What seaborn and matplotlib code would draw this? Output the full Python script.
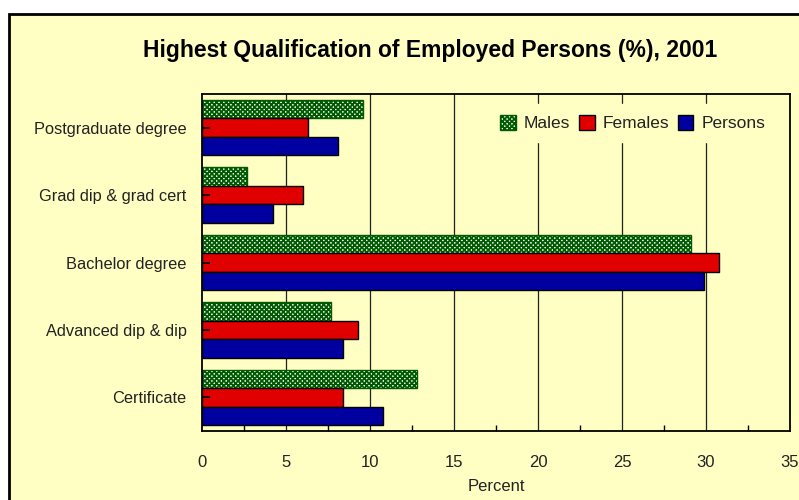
import pandas as pd
import matplotlib
matplotlib.use("Agg")
import matplotlib.pyplot as plt
import seaborn as sns
from matplotlib.patches import Rectangle, Patch
from matplotlib.ticker import MultipleLocator

# Donnees
qualifications = ["Postgraduate degree", "Grad dip & grad cert", "Bachelor degree",
                  "Advanced dip & dip", "Certificate"]
series = ["Males", "Females", "Persons"]
males = [9.6, 2.7, 29.1, 7.7, 12.8]
females = [6.3, 6.0, 30.8, 9.3, 8.4]
persons = [8.1, 4.2, 29.9, 8.4, 10.8]

df = pd.DataFrame({
    "qualification": qualifications * 3,
    "serie": [s for s in series for _ in qualifications],
    "pourcentage": males + females + persons,
})

jaune = "#FFFFC4"
vert = "#005A00"
couleurs = {"Males": "#FFFFFF", "Females": "#E00000", "Persons": "#0000A0"}

sns.set_theme(style="white")
plt.rcParams["font.family"] = ["Liberation Sans", "DejaVu Sans"]
plt.rcParams["hatch.linewidth"] = 1.3

fig = plt.figure(figsize=(7.99, 5.0), dpi=100, facecolor="white")
# panneau jaune avec bordure noire
fig.patches.append(Rectangle((9 / 799, -0.1), 1.2, 1.1 - 14 / 500, transform=fig.transFigure,
                             facecolor=jaune, edgecolor="black", linewidth=2, zorder=-10))
ax = fig.add_axes([202 / 799, 1 - 431 / 500, 588 / 799, 337 / 500])
ax.set_facecolor(jaune)

sns.barplot(data=df, y="qualification", x="pourcentage", hue="serie", hue_order=series,
            palette=couleurs, width=0.82, orient="h", edgecolor="black", linewidth=1,
            saturation=1, legend=False, ax=ax)

# motif en damier pour les hommes
for p in ax.containers[0]:
    p.set_hatch("xxxxxxx")
    p.set_edgecolor(vert)
    p.set_facecolor("white")

ax.set_xlim(0, 35)
ax.xaxis.set_major_locator(MultipleLocator(5))
ax.xaxis.set_minor_locator(MultipleLocator(2.5))
for x in ax.get_xticks():
    if 0 < x < 35:
        ax.axvline(x, color="#222222", linewidth=0.9, zorder=0)

ax.set_axisbelow(False)
for s in ax.spines.values():
    s.set_visible(True)
    s.set_color("black")
    s.set_linewidth(1.3)

ax.tick_params(axis="x", which="major", direction="in", length=7, width=1, color="black",
               pad=17, labelsize=12, labelcolor="#222222")
ax.tick_params(axis="x", which="minor", direction="in", length=4, width=1, color="black",
               bottom=True)
ax.tick_params(axis="y", direction="in", length=6, width=1.2, color="black", left=True,
               pad=11, labelsize=11.8, labelcolor="#222222")

ax.set_ylabel("")
ax.set_xlabel("Percent", fontsize=12, color="#222222", labelpad=7)

handles = [Patch(facecolor="white", edgecolor=vert, hatch="xxxxxxx", label="Males"),
           Patch(facecolor=couleurs["Females"], edgecolor="black", label="Females"),
           Patch(facecolor=couleurs["Persons"], edgecolor="black", label="Persons")]
leg = ax.legend(handles=handles, loc="center right", bbox_to_anchor=(0.99, 0.914), ncol=3,
                fontsize=12.5, frameon=True, facecolor=jaune, edgecolor=jaune, framealpha=1,
                handlelength=0.9, handleheight=1.0, handletextpad=0.45, columnspacing=0.5,
                borderpad=0.6, fancybox=False)
for t in leg.get_texts():
    t.set_color("#222222")

fig.text(430 / 799, 1 - 50 / 500, "Highest Qualification of Employed Persons (%), 2001",
         ha="center", va="center", fontsize=16.5, fontweight="bold", color="black")

fig.savefig("out.png", dpi=100, facecolor="white")
